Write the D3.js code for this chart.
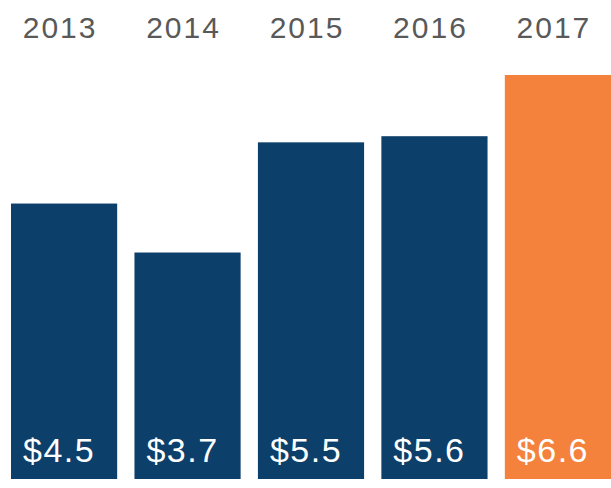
<!DOCTYPE html>
<html><head><meta charset="utf-8">
<script src="https://cdn.jsdelivr.net/npm/d3@7"></script>
<style>html,body{margin:0;padding:0;background:#fff;}svg{display:block;}</style>
</head><body>
<script>
const years = ["2013", "2014", "2015", "2016", "2017"];
const values = [4.5, 3.7, 5.5, 5.6, 6.6];
const valueLabels = ["$4.5", "$3.7", "$5.5", "$5.6", "$6.6"];
const highlight = ["2017"];

const W = 611, H = 488;
const svg = d3.select("body").append("svg").attr("width", W).attr("height", H);

const x = d3.scaleBand().domain(years).range([11, 611]).paddingInner(0.14).paddingOuter(0);
const y = d3.scaleLinear().domain([0, 6.6]).range([479, 75]);

const data = years.map((yr, i) => ({year: yr, value: values[i], label: valueLabels[i]}));

svg.selectAll("rect.bar").data(data).enter().append("rect")
  .attr("class", "bar")
  .attr("x", d => x(d.year))
  .attr("y", d => y(d.value))
  .attr("width", x.bandwidth())
  .attr("height", d => y(0) - y(d.value))
  .attr("fill", d => highlight.includes(d.year) ? "#f5823c" : "#0d3f6b");

svg.selectAll("text.year").data(data).enter().append("text")
  .attr("class", "year")
  .attr("x", d => x(d.year) + x.bandwidth() / 2 - 4)
  .attr("y", 38)
  .attr("text-anchor", "middle")
  .attr("font-family", "Liberation Sans, Arial, sans-serif")
  .attr("font-size", 30)
  .attr("letter-spacing", 2)
  .attr("fill", "#595959")
  .text(d => d.year);

svg.selectAll("text.val").data(data).enter().append("text")
  .attr("class", "val")
  .attr("x", d => x(d.year) + x.bandwidth() / 2 - 5)
  .attr("y", 462)
  .attr("text-anchor", "middle")
  .attr("font-family", "Liberation Sans, Arial, sans-serif")
  .attr("font-size", 34)
  .attr("letter-spacing", 1.5)
  .attr("fill", "#ffffff")
  .text(d => d.label);
</script>
</body></html>
